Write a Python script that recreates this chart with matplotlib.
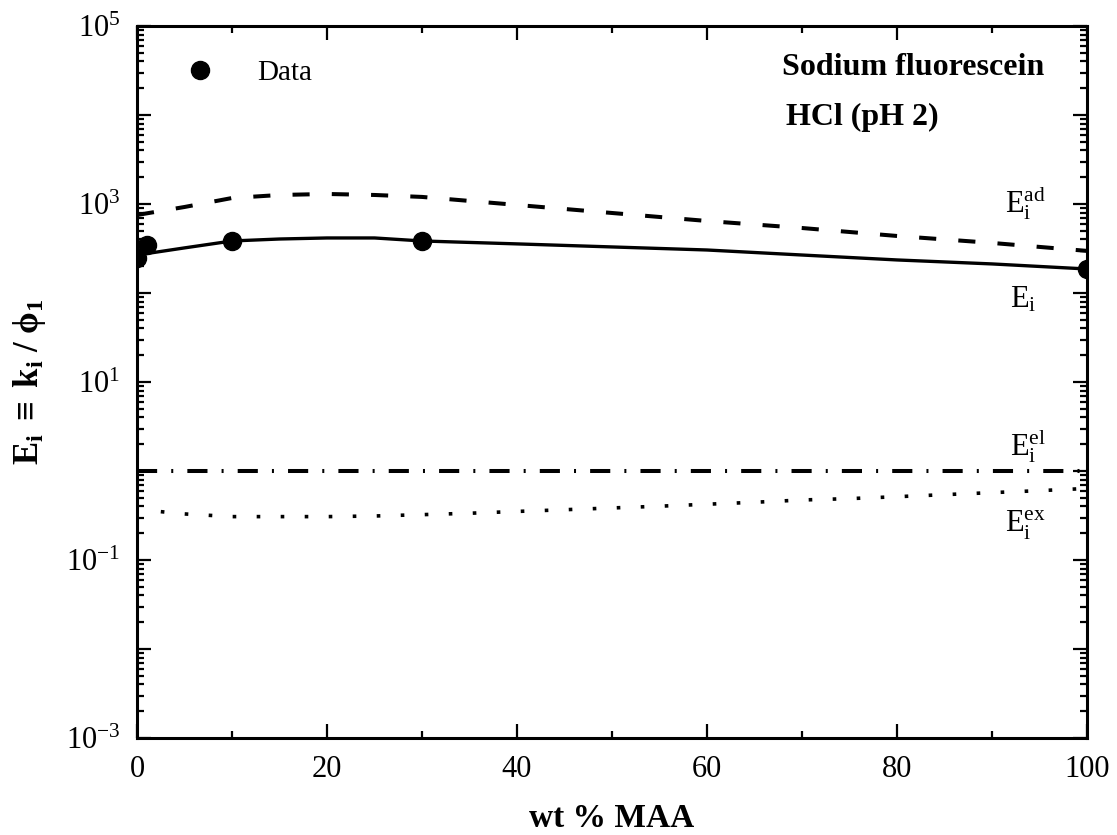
import matplotlib
matplotlib.use('Agg')
from matplotlib import pyplot as plt
from matplotlib.ticker import LogLocator, MultipleLocator, NullFormatter

plt.rcParams['font.family'] = ['Liberation Serif', 'DejaVu Serif']
plt.rcParams['mathtext.fontset'] = 'custom'
plt.rcParams['mathtext.rm'] = 'Liberation Serif'
plt.rcParams['mathtext.it'] = 'Liberation Serif:italic'
plt.rcParams['mathtext.bf'] = 'Liberation Serif:bold'
plt.rcParams['mathtext.fallback'] = 'stix'

# measured enhancement factors
wt_data = [0, 1, 10, 30, 100]
e_data = [250, 345, 384, 384, 186]

# model curves
wt_model = [0, 5, 10, 15, 20, 25, 30, 40, 50, 60, 70, 80, 90, 100]
e_total = [267, 321, 384, 404, 415, 415, 384, 356, 329, 304, 267, 235, 212, 186]
e_ad = [752, 925, 1167, 1262, 1295, 1262, 1200, 975, 792, 644, 537, 437, 365, 297]

wt_el = [0, 100]
e_el = [1.0, 1.0]

wt_ex = [2.5, 5, 10, 15, 20, 25, 30, 35, 40, 45, 50, 55, 60, 65, 70, 75, 80, 85, 90, 95, 100]
e_ex = [0.349, 0.329, 0.307, 0.307, 0.307, 0.312, 0.323, 0.335, 0.351, 0.367, 0.384,
        0.402, 0.423, 0.445, 0.472, 0.489, 0.514, 0.542, 0.571, 0.601, 0.636]

ytick_vals = [1e-3, 1e-2, 1e-1, 1, 10, 100, 1e3, 1e4, 1e5]
ytick_text = [r'$\mathdefault{10^{-3}}$', '', r'$\mathdefault{10^{-1}}$', '',
              r'$\mathdefault{10^{1}}$', '', r'$\mathdefault{10^{3}}$', '',
              r'$\mathdefault{10^{5}}$']

fig = plt.figure(figsize=(11.17, 8.35), dpi=100)
ax = fig.add_axes([0.1227, 0.1162, 0.8504, 0.8527])

ax.plot(wt_model, e_total, color='black', lw=2.4)
ax.plot(wt_model, e_ad, color='black', lw=2.9, dashes=(4.25, 5.5), dash_capstyle='butt')
ax.plot(wt_el, e_el, color='black', lw=2.9, dashes=(5, 3.5, 0.5, 3.5), dash_capstyle='butt')
ax.plot(wt_ex, e_ex, color='black', lw=2.6, dashes=(1, 5.65), dash_capstyle='butt')
ax.plot(wt_data, e_data, 'o', color='black', markersize=13, label='Data')

ax.set_yscale('log')
ax.set_xlim(0, 100)

ax.xaxis.set_major_locator(MultipleLocator(20))
ax.xaxis.set_minor_locator(MultipleLocator(10))
ax.set_yticks(ytick_vals)
ax.set_yticklabels(ytick_text)
ax.yaxis.set_minor_locator(LogLocator(base=10, subs=range(2, 10), numticks=20))
ax.yaxis.set_minor_formatter(NullFormatter())
ax.set_ylim(1e-3, 1e5)

ax.tick_params(which='both', direction='in', top=True, right=True, width=1.6, labelsize=22)
ax.tick_params(which='major', length=10, pad=12)
ax.tick_params(which='minor', length=5)
for s in ax.spines.values():
    s.set_linewidth(2.2)

ax.set_xlabel('wt % MAA', fontsize=24, fontweight='bold', labelpad=14)
ax.set_ylabel(r'$\mathbf{E_i\ \equiv\ k_i\ /\ \phi_1}$', fontsize=25, labelpad=13)

ax.legend(loc='center left', bbox_to_anchor=(0.036, 0.934), frameon=False, fontsize=21,
          numpoints=1, handletextpad=0.95, borderpad=0, borderaxespad=0)

ax.text(0.679, 0.942, 'Sodium fluorescein', transform=ax.transAxes, fontsize=23,
        fontweight='bold', va='center', ha='left')
ax.text(0.683, 0.871, 'HCl (pH 2)', transform=ax.transAxes, fontsize=23,
        fontweight='bold', va='center', ha='left')

ax.text(91.4, 793, r'$\mathrm{E_i^{ad}}$', fontsize=22, va='baseline', ha='left')
ax.text(91.9, 67.8, r'$\mathrm{E_i}$', fontsize=22, va='baseline', ha='left')
ax.text(91.9, 1.51, r'$\mathrm{E_i^{el}}$', fontsize=22, va='baseline', ha='left')
ax.text(91.4, 0.201, r'$\mathrm{E_i^{ex}}$', fontsize=22, va='baseline', ha='left')

fig.savefig('out.png', dpi=100)
